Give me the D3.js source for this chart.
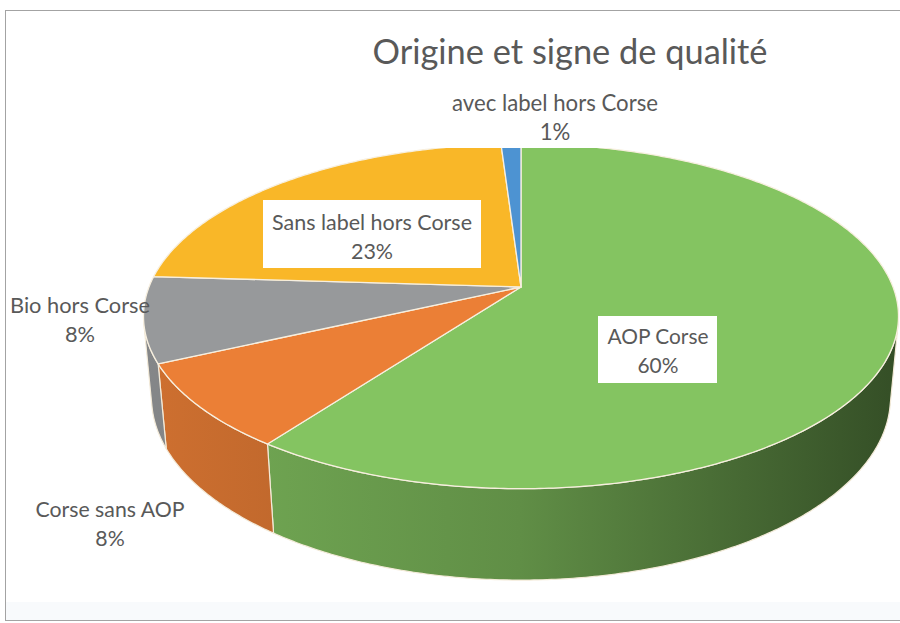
<!DOCTYPE html>
<meta charset="utf-8">
<style>

body {
  margin: 0;
  background: #fff;
}

text {
  font-family: Lato, "Open Sans", sans-serif;
  fill: #595959;
}

</style>
<body>
<script src="https://d3js.org/d3.v7.min.js"></script>
<script>

var categories = ["AOP Corse", "Corse sans AOP", "Bio hors Corse", "Sans label hors Corse", "avec label hors Corse"];
var shares = [60, 8, 8, 23, 1];
var colors = ["#84c461", "#eb7f36", "#97999b", "#f9b728", "#4d93d2"];
var chartTitle = "Origine et signe de qualité";

// where Excel put each data label: centre x, first baseline, text width, boxed or not
var labelLayout = [
  {x: 658, y: 344, w: 101, box: [598, 316, 119, 67]},
  {x: 110, y: 517, w: 149},
  {x: 80,  y: 313, w: 140},
  {x: 372, y: 230, w: 200, box: [263, 200, 218, 68]},
  {x: 555, y: 111, w: 206}
];

var width = 900,
    height = 623;

var svg = d3.select("body").append("svg")
    .attr("width", width)
    .attr("height", height);

// chart frame
svg.append("rect")
    .attr("x", 5).attr("y", 602)
    .attr("width", 900).attr("height", 18)
    .attr("fill", "#f8fafc");

svg.append("rect")
    .attr("x", 5.5).attr("y", 10.5)
    .attr("width", 900).attr("height", 610)
    .attr("fill", "none")
    .attr("stroke", "#a3a3a3");

// perspective of the tilted pie
var cx = 521, cy = 287, s = 372,
    sinA = 0.45, cosA = Math.sqrt(1 - sinA * sinA),
    k = 0.17, D = cosA / k, kp = sinA / D,
    thick = 0.247;

function project(theta, r, y) {
  var X = r * Math.sin(theta),
      Z = r * Math.cos(theta),
      depth = 1 + k * Z - kp * y;
  return [cx + s * X / depth, cy - s * (y * cosA + Z * sinA) / depth];
}

// angles where the side wall turns away from the eye
var silhouette = Math.acos(-1 / (D * cosA));

var pie = d3.pie().sort(null).value(function(d) { return d; });
var arcs = pie(shares);

var line = d3.line();

function rim(a0, a1, y) {
  var n = Math.max(2, Math.ceil((a1 - a0) / 0.01)), pts = [];
  for (var i = 0; i <= n; i++) pts.push(project(a0 + (a1 - a0) * i / n, 1, y));
  return pts;
}

var defs = svg.append("defs");

defs.append("clipPath").attr("id", "plot")
  .append("rect")
    .attr("x", 0).attr("y", 148)
    .attr("width", width).attr("height", height);

arcs.forEach(function(d, i) {
  var c = d3.color(colors[i]);
  var g = defs.append("linearGradient")
      .attr("id", "wall" + i)
      .attr("gradientUnits", "userSpaceOnUse")
      .attr("x1", 140).attr("x2", 900)
      .attr("y1", 0).attr("y2", 0);
  g.append("stop").attr("offset", 0).attr("stop-color", c.darker(0.35));
  g.append("stop").attr("offset", 0.5).attr("stop-color", c.darker(0.9));
  g.append("stop").attr("offset", 1).attr("stop-color", c.darker(2.6));
});

var pieG = svg.append("g").attr("clip-path", "url(#plot)");

// outer walls, front part only
pieG.selectAll(".wall")
    .data(arcs)
  .enter().append("path")
    .attr("class", "wall")
    .attr("fill", function(d, i) { return "url(#wall" + i + ")"; })
    .attr("stroke", "#f3ead8")
    .attr("stroke-width", 1.2)
    .attr("stroke-linejoin", "round")
    .attr("d", function(d) {
      var lo = Math.max(d.startAngle, silhouette),
          hi = Math.min(d.endAngle, 2 * Math.PI - silhouette);
      if (lo >= hi) return null;
      var pts = rim(lo, hi, 0).concat(rim(lo, hi, -thick).reverse());
      return line(pts) + "Z";
    });

// top faces
pieG.selectAll(".slice")
    .data(arcs)
  .enter().append("path")
    .attr("class", "slice")
    .attr("fill", function(d, i) { return colors[i]; })
    .attr("stroke", "#f7efdf")
    .attr("stroke-width", 1.3)
    .attr("stroke-linejoin", "round")
    .attr("d", function(d) {
      var pts = [project(0, 0, 0)].concat(rim(d.startAngle, d.endAngle, 0));
      return line(pts) + "Z";
    });

// text sized so its width matches the reference
function fit(sel, target, base) {
  sel.style("font-size", base + "px");
  var w = sel.node().getComputedTextLength();
  sel.style("font-size", (base * target / w).toFixed(2) + "px");
}

var title = svg.append("text")
    .attr("x", 570)
    .attr("y", 64)
    .attr("text-anchor", "middle")
    .text(chartTitle);
fit(title, 395, 30);

var labels = svg.selectAll(".label")
    .data(arcs)
  .enter().append("g")
    .attr("class", "label");

labels.each(function(d, i) {
  var L = labelLayout[i], g = d3.select(this);
  if (L.box) {
    g.append("rect")
        .attr("x", L.box[0]).attr("y", L.box[1])
        .attr("width", L.box[2]).attr("height", L.box[3])
        .attr("fill", "#fff");
  }
  var t1 = g.append("text")
      .attr("x", L.x).attr("y", L.y)
      .attr("text-anchor", "middle")
      .text(categories[i]);
  fit(t1, L.w, 20);
  g.append("text")
      .attr("x", L.x).attr("y", L.y + 29)
      .attr("text-anchor", "middle")
      .style("font-size", t1.style("font-size"))
      .text(Math.round(d.data) + "%");
});

</script>
